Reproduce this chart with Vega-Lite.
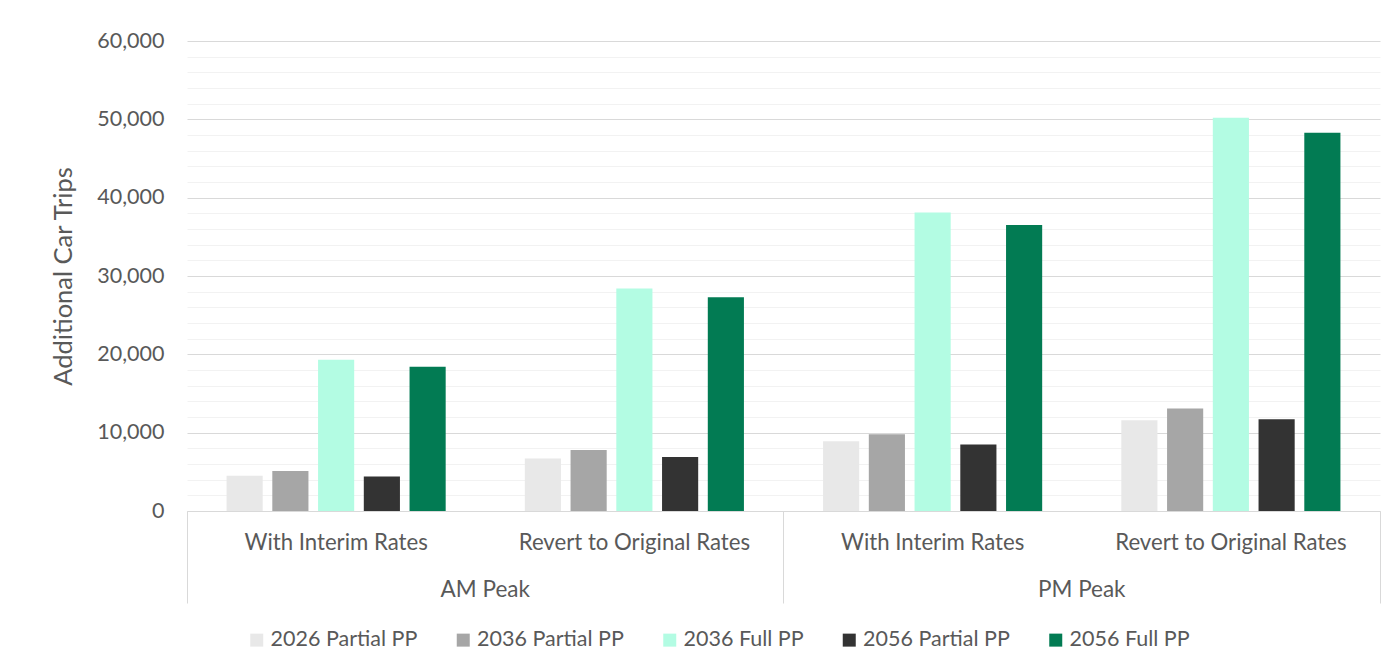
{
  "$schema": "https://vega.github.io/schema/vega-lite/v6.json",
  "width": 1193,
  "height": 470,
  "autosize": {"type": "none"},
  "padding": {"left": 187, "top": 41, "right": 9, "bottom": 161},
  "background": "white",
  "config": {
    "view": {"stroke": null},
    "font": "Lato",
    "axis": {"labelColor": "#595959", "titleColor": "#595959", "titleFontWeight": "normal", "labelLimit": 400}
  },
  "data": {
    "values": [
      {"group": "AM Peak|With Interim Rates", "series": "2026 Partial PP", "trips": 4500},
      {"group": "AM Peak|With Interim Rates", "series": "2036 Partial PP", "trips": 5100},
      {"group": "AM Peak|With Interim Rates", "series": "2036 Full PP", "trips": 19300},
      {"group": "AM Peak|With Interim Rates", "series": "2056 Partial PP", "trips": 4400},
      {"group": "AM Peak|With Interim Rates", "series": "2056 Full PP", "trips": 18400},
      {"group": "AM Peak|Revert to Original Rates", "series": "2026 Partial PP", "trips": 6700},
      {"group": "AM Peak|Revert to Original Rates", "series": "2036 Partial PP", "trips": 7800},
      {"group": "AM Peak|Revert to Original Rates", "series": "2036 Full PP", "trips": 28400},
      {"group": "AM Peak|Revert to Original Rates", "series": "2056 Partial PP", "trips": 6900},
      {"group": "AM Peak|Revert to Original Rates", "series": "2056 Full PP", "trips": 27300},
      {"group": "PM Peak|With Interim Rates", "series": "2026 Partial PP", "trips": 8900},
      {"group": "PM Peak|With Interim Rates", "series": "2036 Partial PP", "trips": 9800},
      {"group": "PM Peak|With Interim Rates", "series": "2036 Full PP", "trips": 38100},
      {"group": "PM Peak|With Interim Rates", "series": "2056 Partial PP", "trips": 8500},
      {"group": "PM Peak|With Interim Rates", "series": "2056 Full PP", "trips": 36500},
      {"group": "PM Peak|Revert to Original Rates", "series": "2026 Partial PP", "trips": 11600},
      {"group": "PM Peak|Revert to Original Rates", "series": "2036 Partial PP", "trips": 13100},
      {"group": "PM Peak|Revert to Original Rates", "series": "2036 Full PP", "trips": 50200},
      {"group": "PM Peak|Revert to Original Rates", "series": "2056 Partial PP", "trips": 11700},
      {"group": "PM Peak|Revert to Original Rates", "series": "2056 Full PP", "trips": 48300}
    ]
  },
  "resolve": {"axis": {"x": "independent", "y": "independent"}},
  "layer": [
    {
      "mark": {"type": "bar"},
      "encoding": {
        "x": {
          "field": "group", "type": "nominal", "sort": null,
          "scale": {"paddingInner": 0, "paddingOuter": 0},
          "axis": {
            "orient": "bottom", "title": null, "labelAngle": 0,
            "labelExpr": "split(datum.value, '|')[1]",
            "labelFontSize": 22.2, "labelPadding": 20, "labelLimit": 400,
            "ticks": false, "tickSize": 0, "grid": false,
            "domain": true, "domainColor": "#d9d9d9", "domainWidth": 1
          }
        },
        "xOffset": {
          "field": "series", "type": "nominal",
          "scale": {
            "domain": ["2026 Partial PP", "2036 Partial PP", "2036 Full PP", "2056 Partial PP", "2056 Full PP"],
            "paddingInner": 0.21, "paddingOuter": 0.865
          }
        },
        "y": {
          "field": "trips", "type": "quantitative",
          "scale": {"domain": [0, 60000], "nice": false},
          "axis": {
            "orient": "left",
            "values": [0, 10000, 20000, 30000, 40000, 50000, 60000],
            "format": ",.0f",
            "labelFontSize": 21.5, "labelPadding": 23,
            "ticks": false, "tickSize": 0, "domain": false,
            "grid": true, "gridColor": "#d9d9d9", "gridWidth": 1,
            "title": "Additional Car Trips", "titleFontSize": 25.5, "titlePadding": 20
          }
        },
        "color": {
          "field": "series", "type": "nominal",
          "scale": {
            "domain": ["2026 Partial PP", "2036 Partial PP", "2036 Full PP", "2056 Partial PP", "2056 Full PP"],
            "range": ["#e8e8e8", "#a6a6a6", "#b3fce3", "#333333", "#027b53"]
          },
          "legend": {
            "title": null, "orient": "none", "direction": "horizontal",
            "legendX": 59, "legendY": 588,
            "symbolType": "square", "symbolSize": 169, "symbolStrokeWidth": 0,
            "labelFontSize": 21.5, "labelColor": "#595959", "labelOffset": 3,
            "columnPadding": 34.5, "labelLimit": 400
          }
        }
      }
    },
    {
      "mark": {"type": "point", "opacity": 0},
      "encoding": {
        "x": {
          "field": "group", "type": "nominal", "sort": null,
          "axis": {
            "orient": "bottom", "title": null, "labelAngle": 0,
            "values": ["AM Peak|With Interim Rates", "PM Peak|With Interim Rates"],
            "bandPosition": 0,
            "labelExpr": "split(datum.value, '|')[0]",
            "labelFontSize": 22.5, "labelOffset": 149.125, "labelPadding": -25, "labelLimit": 400,
            "ticks": true, "tickSize": 92, "tickColor": "#d9d9d9", "tickWidth": 1,
            "domain": false, "grid": false
          }
        },
        "y": {
          "field": "trips", "type": "quantitative",
          "scale": {"domain": [0, 60000], "nice": false},
          "axis": {
            "orient": "left", "title": null, "labels": false, "ticks": false, "domain": false,
            "values": [2000, 4000, 6000, 8000, 12000, 14000, 16000, 18000, 22000, 24000, 26000, 28000, 32000, 34000, 36000, 38000, 42000, 44000, 46000, 48000, 52000, 54000, 56000, 58000],
            "grid": true, "gridColor": "#f2f2f2", "gridWidth": 1
          }
        }
      }
    },
    {
      "mark": {"type": "point", "opacity": 0},
      "encoding": {
        "x": {
          "field": "group", "type": "nominal", "sort": null,
          "axis": {
            "orient": "bottom", "title": null,
            "values": ["PM Peak|Revert to Original Rates"],
            "bandPosition": 1,
            "labels": false, "ticks": true, "tickSize": 92, "tickColor": "#d9d9d9", "tickWidth": 1,
            "domain": false, "grid": false
          }
        }
      }
    }
  ]
}
